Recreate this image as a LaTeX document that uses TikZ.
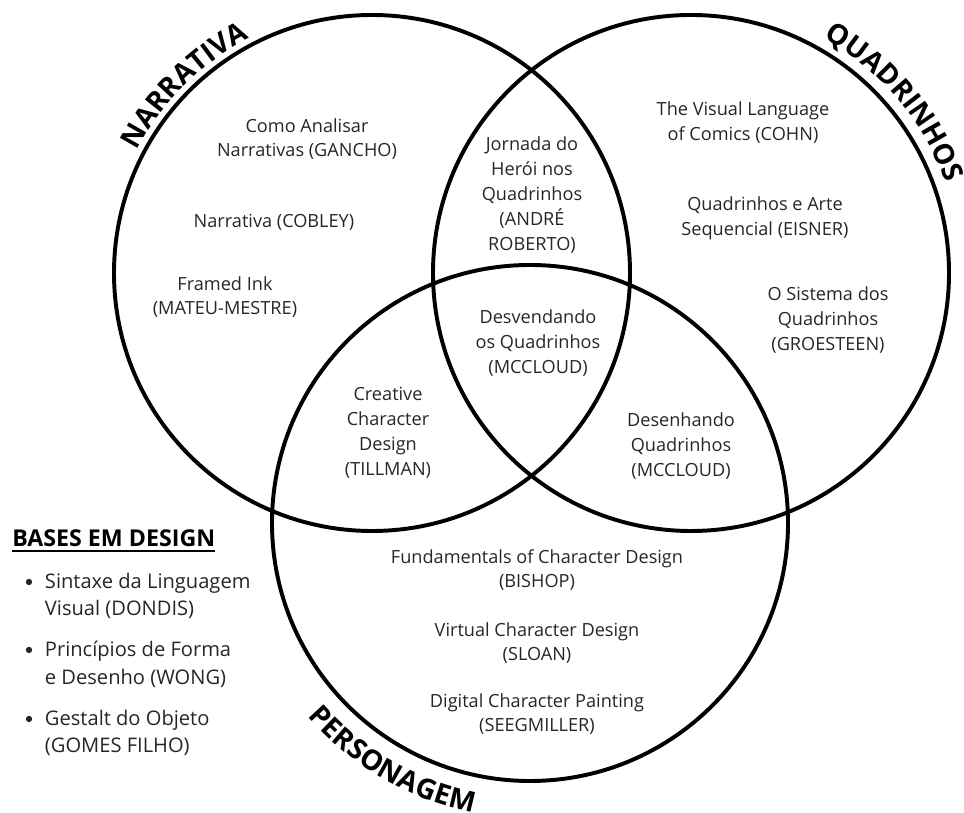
\documentclass[tikz,border=0pt]{standalone}
\usepackage{fontspec}
\setmainfont{Open Sans}
\usetikzlibrary{positioning,decorations.text}

\tikzset{
  venn/.style={line width=2.8pt},
  book/.style={align=center, text=black!85, font=\fontsize{12.9pt}{17.7pt}\selectfont},
  item/.style={anchor=west, align=left, text=black!85, font=\fontsize{14.3pt}{19.8pt}\selectfont},
  bullet/.style={circle, fill=black!85, inner sep=0pt, minimum size=4.5pt},
  head/.style={anchor=west, inner sep=0pt, font=\fontsize{16.5pt}{18pt}\selectfont\bfseries},
  arclabel/.style={decorate, decoration={text along path, text align=center, text={|\fontsize{20pt}{20pt}\selectfont\bfseries|#1}}}
}

\begin{document}
\begin{tikzpicture}[x=0.025cm, y=0.025cm]
    \useasboundingbox (0,0) rectangle (964,813);

    % Circles
    \coordinate (cN) at (372,540);
    \coordinate (cQ) at (691,540);
    \coordinate (cP) at (530,290);
    \draw[venn] (cN) circle[radius=258];
    \draw[venn] (cQ) circle[radius=258];
    \draw[venn] (cP) circle[radius=258];

    % Titles along the circles
    \path[arclabel=NARRATIVA] (cN) ++(171:265) arc[start angle=171, end angle=99, radius=265];
    \path[arclabel=QUADRINHOS] (cQ) ++(76:270) arc[start angle=76, end angle=4, radius=270];
    \path[arclabel=PERSONAGEM] (cP) ++(199:295) arc[start angle=199, end angle=281, radius=295];

    % Narrativa only
    \node[book] (gancho) at (307,674) {Como Analisar\\Narrativas (GANCHO)};
    \node[book] (cobley) at (274,591) {Narrativa (COBLEY)};
    \node[book] (mateu) at (225,516) {Framed Ink\\(MATEU-MESTRE)};

    % Quadrinhos only
    \node[book] (cohn) at (743,690) {The Visual Language\\of Comics (COHN)};
    \node[book] (eisner) at (765,595) {Quadrinhos e Arte\\Sequencial (EISNER)};
    \node[book] (groesteen) at (828,493) {O Sistema dos\\Quadrinhos\\(GROESTEEN)};

    % Overlaps
    \node[book] (andre) at (532,618) {Jornada do\\Herói nos\\Quadrinhos\\(ANDRÉ\\ROBERTO)};
    \node[book] (mccloudA) at (538,470) {Desvendando\\os Quadrinhos\\(MCCLOUD)};
    \node[book] (tillman) at (388,380) {Creative\\Character\\Design\\(TILLMAN)};
    \node[book] (mccloudB) at (681,367) {Desenhando\\Quadrinhos\\(MCCLOUD)};

    % Personagem only
    \node[book] (bishop) at (537,243) {Fundamentals of Character Design\\(BISHOP)};
    \node[book] (sloan) at (537,170) {Virtual Character Design\\(SLOAN)};
    \node[book] (seeg) at (537,99) {Digital Character Painting\\(SEEGMILLER)};

    % Bases em design
    \node[head] (bases) at (12,275) {BASES EM DESIGN};
    \draw[line width=1.3pt] ([yshift=-3.5pt]bases.base west) -- ([yshift=-3.5pt]bases.base east);
    \node[bullet] (b1) at (29,231) {};
    \node[item] (dondis) at (40,217) {Sintaxe da Linguagem\\Visual (DONDIS)};
    \node[bullet] (b2) at (29,163) {};
    \node[item] (wong) at (40,149) {Princípios de Forma\\e Desenho (WONG)};
    \node[bullet] (b3) at (29,94) {};
    \node[item] (gomes) at (40,80) {Gestalt do Objeto\\(GOMES FILHO)};
\end{tikzpicture}
\end{document}
